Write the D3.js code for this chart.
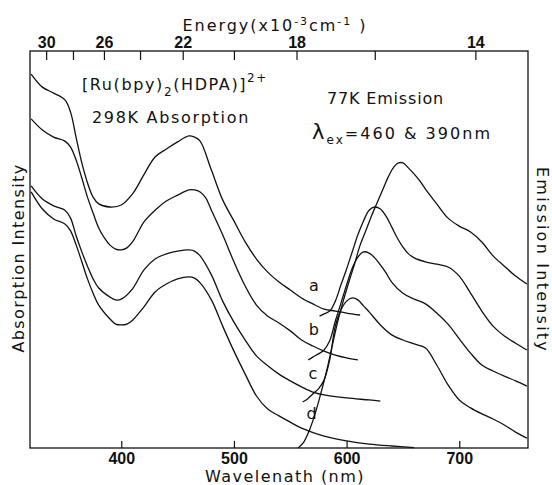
<!DOCTYPE html>
<html>
<head>
<meta charset="utf-8">
<script src="https://cdn.jsdelivr.net/npm/d3@7"></script>
<style>
  body { margin: 0; background: #fff; }
  svg { display: block; }
  .lbl { font-family: "DejaVu Sans", sans-serif; font-size: 16px; fill: #111; }
  .tick text { font-family: "Liberation Sans Narrow", "Liberation Sans", sans-serif; font-weight: bold; font-size: 16px; fill: #111; }
  .tick line { stroke: #111; stroke-width: 1.2; }
  .curve { fill: none; stroke: #111; stroke-width: 1.3; }
</style>
</head>
<body>
<div id="chart"></div>
<script>
const width = 552;
const height = 485;

// wavelength (nm) -> intensity (arb. units, 0..100 of plot height)
const absA = [[320,94.2],[330,90.9],[340,89.4],[350,87.7],[355,84.6],[360,78.1],[365,71.8],[370,66.8],[375,63.2],[380,61.5],[390,60.7],[400,61.2],[410,64.0],[420,68.8],[430,73.3],[440,75.3],[450,77.1],[460,78.6],[465,78.3],[470,77.3],[480,70.0],[490,62.5],[500,57.2],[510,51.9],[520,47.6],[530,44.3],[540,41.8],[550,39.8],[560,37.8],[570,36.3],[580,35.0],[590,34.5],[600,34.0],[612,33.5]];
const absB = [[320,82.9],[330,80.1],[340,78.3],[350,77.3],[355,75.8],[360,72.5],[365,68.0],[370,63.2],[375,59.2],[380,55.4],[385,52.9],[390,51.1],[395,50.1],[400,49.9],[405,50.4],[410,51.9],[415,54.4],[420,56.9],[430,59.9],[440,62.2],[450,63.7],[460,65.0],[465,65.0],[470,64.5],[475,63.0],[480,59.9],[490,53.7],[500,46.9],[510,40.8],[520,36.0],[530,33.2],[540,31.5],[550,29.5],[560,27.2],[570,25.7],[580,24.4],[590,23.4],[600,22.7],[610,22.2]];
const absC = [[320,66.0],[330,62.7],[340,61.0],[350,59.9],[355,57.9],[360,53.4],[365,49.4],[370,45.8],[375,42.6],[380,40.3],[390,38.0],[395,37.3],[400,37.5],[410,40.1],[420,44.8],[430,47.6],[440,48.9],[450,49.6],[460,49.9],[465,49.6],[470,48.4],[480,43.6],[490,37.0],[500,31.7],[510,27.2],[520,23.2],[530,20.7],[540,18.6],[550,16.9],[560,15.4],[570,14.1],[580,13.4],[600,12.6],[620,12.1],[630,11.8]];
const absD = [[320,64.5],[330,60.2],[340,57.7],[350,56.4],[355,54.7],[360,51.1],[365,46.9],[370,42.6],[375,39.0],[380,36.0],[390,32.5],[395,31.2],[400,31.0],[405,31.2],[410,32.2],[420,35.5],[430,39.3],[440,41.3],[450,42.6],[460,43.1],[465,42.8],[470,41.6],[480,37.3],[490,30.7],[500,24.4],[510,18.6],[520,13.1],[530,9.8],[540,8.1],[550,6.5],[560,5.0],[580,3.0],[600,1.8],[620,1.0],[640,0.5],[660,0.1]];

const emA = [[557,0.0],[562,1.5],[567,4.5],[572,8.6],[577,13.6],[582,19.1],[587,25.4],[592,31.7],[597,37.0],[602,41.8],[607,46.3],[612,51.1],[617,54.7],[622,58.4],[627,61.7],[632,65.0],[637,68.3],[642,70.8],[646,71.8],[650,71.8],[655,70.5],[660,69.0],[665,67.3],[670,65.2],[680,61.5],[690,57.9],[700,55.9],[710,54.4],[720,51.9],[730,48.4],[740,45.8],[750,43.3],[760,41.3]];
const emB = [[576,33.2],[580,33.8],[585,34.5],[590,37.0],[595,41.1],[600,45.1],[605,49.4],[610,53.7],[615,57.2],[620,59.9],[625,60.7],[630,60.2],[635,58.4],[640,55.7],[645,52.9],[650,50.6],[655,48.9],[660,47.9],[670,46.9],[680,46.3],[690,45.6],[700,43.3],[710,39.0],[720,34.5],[730,30.7],[740,28.2],[750,26.4],[760,24.7]];
const emC = [[566,22.2],[570,22.9],[575,23.7],[580,24.7],[585,27.0],[590,32.0],[595,36.5],[600,41.1],[605,45.3],[610,48.1],[615,49.4],[620,49.1],[625,47.9],[630,46.1],[635,44.1],[640,41.8],[650,39.0],[660,37.5],[670,36.3],[680,34.0],[690,31.2],[700,27.5],[710,23.9],[720,20.9],[730,19.4],[740,18.1],[750,16.9],[760,15.6]];
const emD = [[561,11.6],[565,12.3],[570,13.6],[575,14.9],[580,17.1],[585,22.2],[590,30.7],[595,34.8],[600,37.0],[605,37.8],[610,37.3],[615,35.8],[620,34.3],[630,31.0],[640,28.5],[650,27.2],[660,26.2],[670,25.2],[680,20.9],[690,15.9],[700,12.1],[710,10.1],[720,8.6],[730,7.3],[740,5.8],[750,4.0],[760,2.5]];

const wavelengthTicks = [400, 500, 600, 700];
const energyTicks = [30, 28, 26, 24, 22, 20, 18, 16, 14];
const energyLabels = [30, 26, 22, 18, 14];

// curve labels: [letter, wavelength, intensity]
const curveLabels = [['a', 571, 39.5], ['b', 571, 28.5], ['c', 570, 17.4], ['d', 569, 7.3]];

const margin = {left: 30, right: 24, top: 51, bottom: 37};

const x = d3.scaleLinear()
  .domain([319, 761])
  .range([margin.left, width - margin.right]);

// energy (10^3 cm^-1) is 1e4 / wavelength, so a pow scale with exponent -1 lines it up
const xE = d3.scalePow().exponent(-1)
  .domain([1e4 / 319, 1e4 / 761])
  .range([margin.left, width - margin.right]);

const y = d3.scaleLinear()
  .domain([0, 100])
  .range([height - margin.bottom, margin.top]);

const svg = d3.select('#chart').append('svg')
  .attr('width', width)
  .attr('height', height);

// stretch a text to the width it has in the figure
const fit = (sel, target) => {
  const node = sel.node();
  const w = node.getComputedTextLength();
  const n = node.textContent.length;
  sel.attr('letter-spacing', (target - w) / n);
  return sel;
};

const line = d3.line()
  .x(d => x(d[0]))
  .y(d => y(d[1]))
  .curve(d3.curveCatmullRom.alpha(0.5));

svg.selectAll('.curve')
  .data([absA, absB, absC, absD, emA, emB, emC, emD])
  .join('path')
  .attr('class', 'curve')
  .attr('d', line);

// frame
svg.append('rect')
  .attr('x', margin.left)
  .attr('y', margin.top)
  .attr('width', width - margin.left - margin.right)
  .attr('height', height - margin.top - margin.bottom)
  .attr('fill', 'none')
  .attr('stroke', '#111')
  .attr('stroke-width', 1.3);

const gx = svg.append('g')
  .attr('transform', `translate(0,${height - margin.bottom})`)
  .call(d3.axisBottom(x).tickValues(wavelengthTicks).tickSizeInner(-7).tickSizeOuter(0).tickPadding(5));
gx.select('.domain').remove();

const gt = svg.append('g')
  .attr('transform', `translate(0,${margin.top})`)
  .call(d3.axisTop(xE).tickValues(energyTicks).tickSizeInner(-9).tickSizeOuter(0).tickPadding(3)
    .tickFormat(d => energyLabels.includes(d) ? d : ''));
gt.select('.domain').remove();

// axis titles
const eTitle = svg.append('text').attr('class', 'lbl')
  .attr('x', 275).attr('y', 31).attr('text-anchor', 'middle');
eTitle.append('tspan').text('Energy(x10');
eTitle.append('tspan').attr('dy', -6).attr('font-size', 11).text('-3');
eTitle.append('tspan').attr('dy', 6).text('cm');
eTitle.append('tspan').attr('dy', -6).attr('font-size', 11).text('-1');
eTitle.append('tspan').attr('dy', 6).text(' )');
fit(eTitle, 185);

fit(svg.append('text').attr('class', 'lbl')
  .attr('x', 285).attr('y', 482).attr('text-anchor', 'middle')
  .text('Wavelenath (nm)'), 160);

fit(svg.append('text').attr('class', 'lbl')
  .attr('transform', 'translate(24,258) rotate(-90)')
  .attr('text-anchor', 'middle')
  .text('Absorption Intensity'), 189);

fit(svg.append('text').attr('class', 'lbl')
  .attr('transform', 'translate(537,260) rotate(90)')
  .attr('text-anchor', 'middle')
  .text('Emission Intensity'), 186);

// annotations
const title = svg.append('text').attr('class', 'lbl').attr('x', 82).attr('y', 90);
title.append('tspan').text('[Ru(bpy)');
title.append('tspan').attr('dy', 6).attr('font-size', 12).text('2');
title.append('tspan').attr('dy', -6).text('(HDPA)]');
title.append('tspan').attr('dy', -8).attr('font-size', 12).text('2+');
fit(title, 186);

fit(svg.append('text').attr('class', 'lbl')
  .attr('x', 92).attr('y', 123)
  .text('298K Absorption'), 158);

fit(svg.append('text').attr('class', 'lbl')
  .attr('x', 327).attr('y', 104)
  .text('77K Emission'), 117);

const ex = svg.append('text').attr('class', 'lbl').attr('x', 312).attr('y', 139);
ex.append('tspan').attr('font-size', 21).text('λ');
ex.append('tspan').attr('dy', 5).attr('font-size', 12).text('ex');
ex.append('tspan').attr('dy', -5).text('=460 & 390nm');
fit(ex, 180);

svg.selectAll('.clabel')
  .data(curveLabels)
  .join('text')
  .attr('class', 'lbl clabel')
  .attr('x', d => x(d[1]))
  .attr('y', d => y(d[2]))
  .attr('text-anchor', 'middle')
  .text(d => d[0]);
</script>
</body>
</html>
